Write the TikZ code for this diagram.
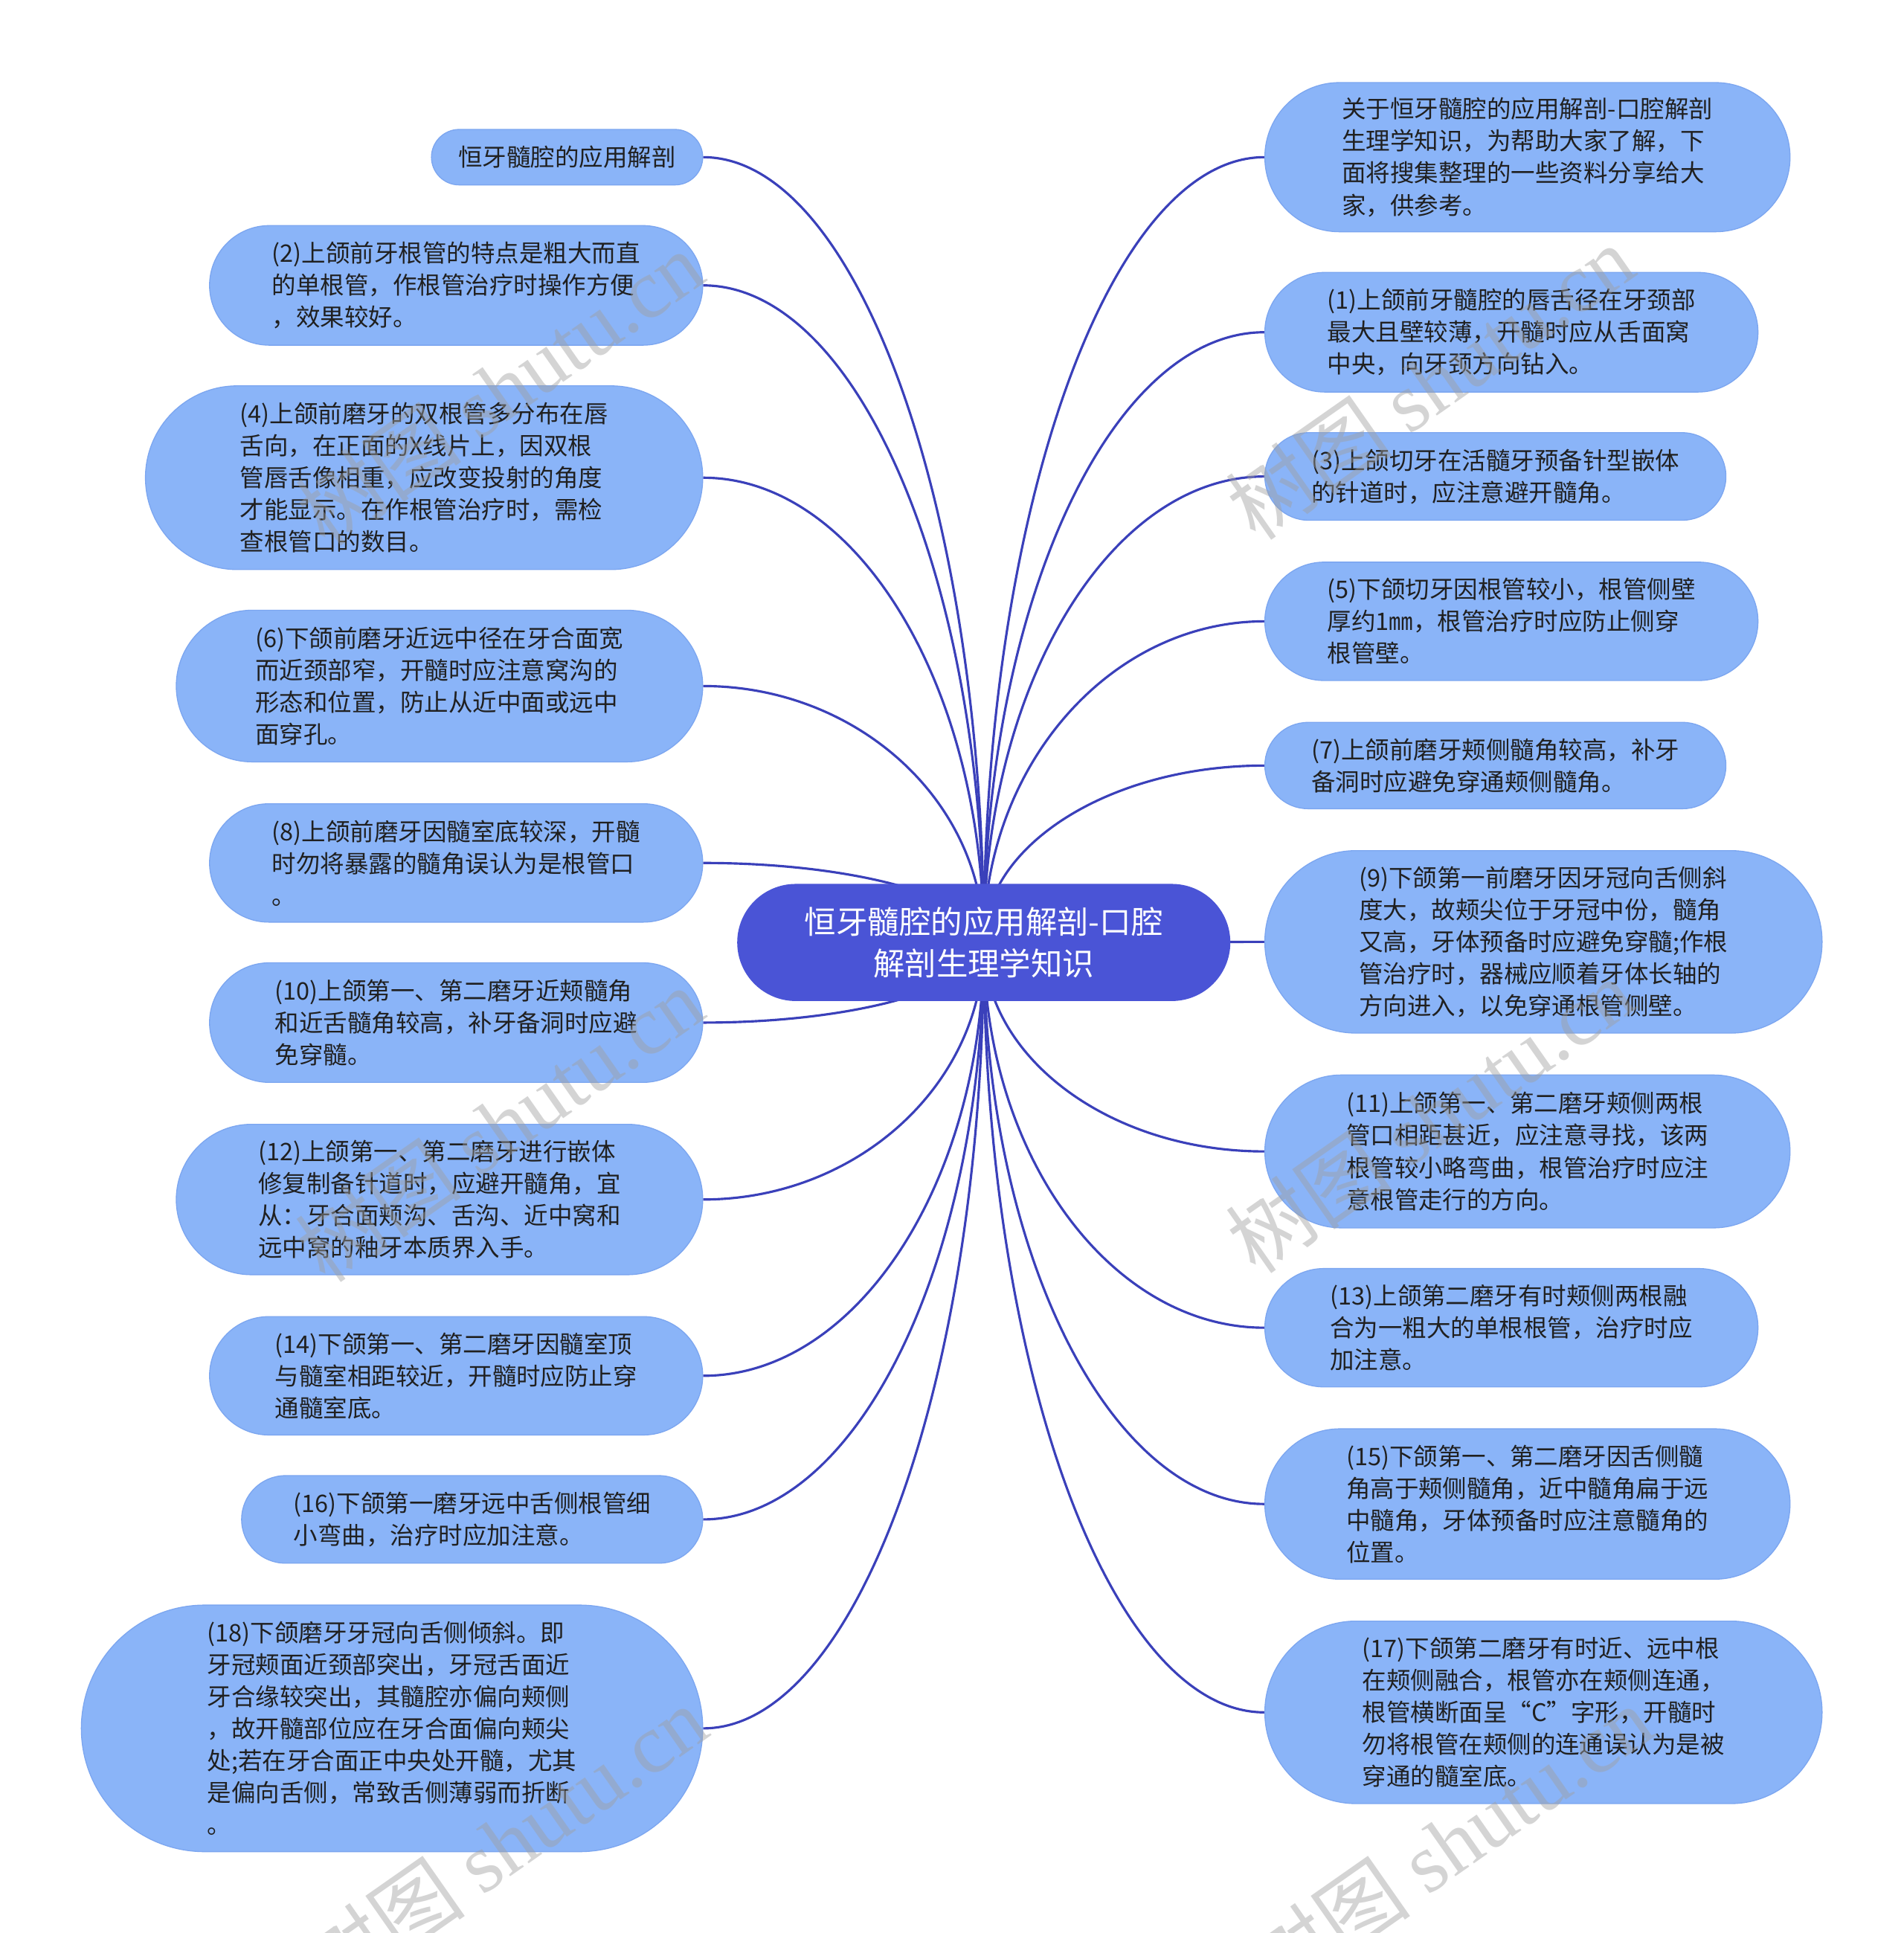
\documentclass[tikz,border=0pt]{standalone}
\usepackage{fontspec}
\setmainfont{Noto Sans CJK SC}
\newfontfamily\wmlat{Liberation Serif}
\usetikzlibrary{calc,backgrounds}
\definecolor{leaffill}{RGB}{138,180,248}
\definecolor{leafedge}{RGB}{124,166,240}
\definecolor{rootfill}{RGB}{74,84,214}
\definecolor{linkc}{RGB}{58,64,186}
\definecolor{txt}{RGB}{32,32,32}
\definecolor{wm}{RGB}{160,160,160}
\begin{document}
\begin{tikzpicture}[x=1pt,y=-1pt,
  leaf/.style={draw=leafedge, line width=0.8pt, fill=leaffill, text=txt, align=left, inner sep=0pt,
    font=\fontsize{19.6}{26}\selectfont},
  root/.style={fill=rootfill, text=white, align=center, inner sep=0pt,
    font=\fontsize{25.6}{34}\selectfont},
  link/.style={draw=linkc, line width=1.9pt},
  branch/.style={to path={.. controls ($(\tikztostart)!0.55!(\tikztostart |- \tikztotarget)$) and ($(\tikztotarget)!0.55!(\tikztostart |- \tikztotarget)$) .. (\tikztotarget)}},
  wmark/.style={text=wm, opacity=0.45, rotate=35, inner sep=0pt, font=\fontsize{68}{68}\selectfont}]

\useasboundingbox (0,0) rectangle (1544,1568);

% root
\node[root, minimum width=400pt, minimum height=95pt, rounded corners=47.5pt] (C) at (798,764.5)
  {恒牙髓腔的应用解剖-口腔\\解剖生理学知识};

% left column
\node[leaf, minimum width=220pt, minimum height=45pt, rounded corners=22.5pt] (L0) at (460,127.5)
  {恒牙髓腔的应用解剖};
\node[leaf, minimum width=400pt, minimum height=97pt, rounded corners=48.5pt] (L2) at (370,231.5)
  {(2)上颌前牙根管的特点是粗大而直\\的单根管，作根管治疗时操作方便\\，效果较好。};
\node[leaf, minimum width=452pt, minimum height=149pt, rounded corners=74.5pt] (L4) at (344,387.5)
  {(4)上颌前磨牙的双根管多分布在唇\\舌向，在正面的X线片上，因双根\\管唇舌像相重，应改变投射的角度\\才能显示。在作根管治疗时，需检\\查根管口的数目。};
\node[leaf, minimum width=427pt, minimum height=123pt, rounded corners=61.5pt] (L6) at (356.5,556.5)
  {(6)下颌前磨牙近远中径在牙合面宽\\而近颈部窄，开髓时应注意窝沟的\\形态和位置，防止从近中面或远中\\面穿孔。};
\node[leaf, minimum width=400pt, minimum height=96pt, rounded corners=48pt] (L8) at (370,700)
  {(8)上颌前磨牙因髓室底较深，开髓\\时勿将暴露的髓角误认为是根管口\\。};
\node[leaf, minimum width=400pt, minimum height=97pt, rounded corners=48.5pt] (L10) at (370,829.5)
  {(10)上颌第一、第二磨牙近颊髓角\\和近舌髓角较高，补牙备洞时应避\\免穿髓。};
\node[leaf, minimum width=427pt, minimum height=122pt, rounded corners=61pt] (L12) at (356.5,973)
  {(12)上颌第一、第二磨牙进行嵌体\\修复制备针道时，应避开髓角，宜\\从：牙合面颊沟、舌沟、近中窝和\\远中窝的釉牙本质界入手。};
\node[leaf, minimum width=400pt, minimum height=96pt, rounded corners=48pt] (L14) at (370,1116)
  {(14)下颌第一、第二磨牙因髓室顶\\与髓室相距较近，开髓时应防止穿\\通髓室底。};
\node[leaf, minimum width=374pt, minimum height=71pt, rounded corners=35.5pt] (L16) at (383,1232.5)
  {(16)下颌第一磨牙远中舌侧根管细\\小弯曲，治疗时应加注意。};
\node[leaf, minimum width=504pt, minimum height=200pt, rounded corners=100pt] (L18) at (318,1402)
  {(18)下颌磨牙牙冠向舌侧倾斜。即\\牙冠颊面近颈部突出，牙冠舌面近\\牙合缘较突出，其髓腔亦偏向颊侧\\，故开髓部位应在牙合面偏向颊尖\\处;若在牙合面正中央处开髓，尤其\\是偏向舌侧，常致舌侧薄弱而折断\\。};

% right column
\node[leaf, minimum width=426pt, minimum height=121pt, rounded corners=60.5pt] (R0) at (1239,127.5)
  {关于恒牙髓腔的应用解剖-口腔解剖\\生理学知识，为帮助大家了解，下\\面将搜集整理的一些资料分享给大\\家，供参考。};
\node[leaf, minimum width=400pt, minimum height=97pt, rounded corners=48.5pt] (R1) at (1226,269.5)
  {(1)上颌前牙髓腔的唇舌径在牙颈部\\最大且壁较薄，开髓时应从舌面窝\\中央，向牙颈方向钻入。};
\node[leaf, minimum width=374pt, minimum height=71pt, rounded corners=35.5pt] (R3) at (1213,386.5)
  {(3)上颌切牙在活髓牙预备针型嵌体\\的针道时，应注意避开髓角。};
\node[leaf, minimum width=400pt, minimum height=96pt, rounded corners=48pt] (R5) at (1226,504)
  {(5)下颌切牙因根管较小，根管侧壁\\厚约1㎜，根管治疗时应防止侧穿\\根管壁。};
\node[leaf, minimum width=374pt, minimum height=70pt, rounded corners=35pt] (R7) at (1213,621)
  {(7)上颌前磨牙颊侧髓角较高，补牙\\备洞时应避免穿通颊侧髓角。};
\node[leaf, minimum width=452pt, minimum height=148pt, rounded corners=74pt] (R9) at (1252,764)
  {(9)下颌第一前磨牙因牙冠向舌侧斜\\度大，故颊尖位于牙冠中份，髓角\\又高，牙体预备时应避免穿髓;作根\\管治疗时，器械应顺着牙体长轴的\\方向进入，以免穿通根管侧壁。};
\node[leaf, minimum width=426pt, minimum height=124pt, rounded corners=62pt] (R11) at (1239,934)
  {(11)上颌第一、第二磨牙颊侧两根\\管口相距甚近，应注意寻找，该两\\根管较小略弯曲，根管治疗时应注\\意根管走行的方向。};
\node[leaf, minimum width=400pt, minimum height=96pt, rounded corners=48pt] (R13) at (1226,1077)
  {(13)上颌第二磨牙有时颊侧两根融\\合为一粗大的单根根管，治疗时应\\加注意。};
\node[leaf, minimum width=426pt, minimum height=122pt, rounded corners=61pt] (R15) at (1239,1220)
  {(15)下颌第一、第二磨牙因舌侧髓\\角高于颊侧髓角，近中髓角扁于远\\中髓角，牙体预备时应注意髓角的\\位置。};
\node[leaf, minimum width=452pt, minimum height=148pt, rounded corners=74pt] (R17) at (1252,1389)
  {(17)下颌第二磨牙有时近、远中根\\在颊侧融合，根管亦在颊侧连通，\\根管横断面呈“C”字形，开髓时\\勿将根管在颊侧的连通误认为是被\\穿通的髓室底。};

% connectors and background
\begin{pgfonlayer}{background}
  \fill[white] (0,0) rectangle (1544,1568);
  \foreach \n in {L0,L2,L4,L6,L8,L10,L12,L14,L16,L18}
    \draw[link] (C.center) to[branch] (\n.east);
  \foreach \n in {R0,R1,R3,R5,R7,R11,R13,R15,R17}
    \draw[link] (C.center) to[branch] (\n.west);
  \draw[link] (C.center) -- (R9.west);
\end{pgfonlayer}

% watermarks
\foreach \wx/\wy [count=\i] in {405/315, 1160/310, 405/912, 1160/905, 408/1495, 1175/1495}
  \node[wmark] (wm\i) at (\wx,\wy) {树图 {\wmlat shutu.cn}};
\end{tikzpicture}
\end{document}
